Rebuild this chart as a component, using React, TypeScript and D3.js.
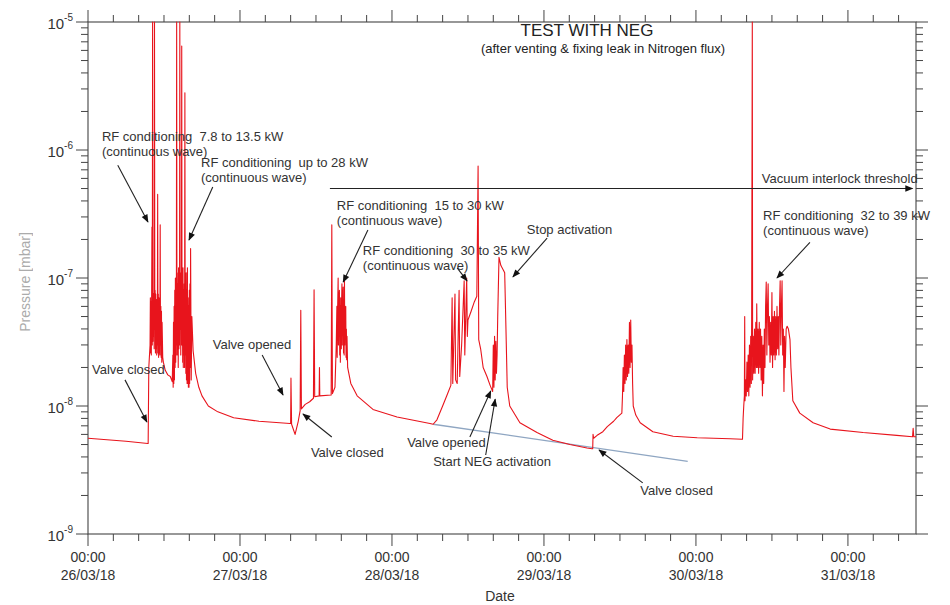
import * as d3 from 'd3';

const WIDTH = 950;
const HEIGHT = 605;
const MARGIN = { top: 22, right: 34, bottom: 71, left: 88 };
const START = Date.UTC(2018, 2, 26); // 26/03/18 00:00
const SPAN_H = 130.75;
const HOUR = 3600 * 1000;
const FONT = '"Liberation Sans", Arial, Helvetica, sans-serif';

type Pt = [number, number]; // [hours since 26/03/18 00:00, pressure in mbar]

// pressure trace, split by event
const beforeRun: Pt[] = [[0, 5.6e-9], [3, 5.45e-9], [6, 5.3e-9], [9.45, 5.1e-9]];

const rfRun1: Pt[] = [
    [9.5, 5.1e-9], [9.6, 2.0e-8], [9.8, 3.0e-8], [9.85, 7.0e-8], [9.9, 2.6e-8], [9.95, 6.5e-8],
    [10.0, 2.5e-8], [10.05, 7.5e-8], [10.1, 2.5e-7], [10.15, 3.0e-8], [10.2, 1e-5], [10.25, 3.2e-8],
    [10.3, 7.6e-8], [10.35, 3.5e-8], [10.4, 7.0e-8], [10.45, 2.8e-8], [10.5, 1e-5], [10.55, 4.0e-8],
    [10.6, 8.0e-8], [10.65, 2.6e-8], [10.7, 7.5e-8], [10.75, 2.8e-8], [10.8, 6.8e-8], [10.85, 2.5e-8],
    [10.9, 6.0e-8], [10.95, 3.0e-8], [11.0, 4.5e-7], [11.05, 2.6e-8], [11.1, 7.5e-8], [11.15, 2.4e-8],
    [11.2, 7.0e-8], [11.25, 2.6e-8], [11.3, 6.5e-8], [11.35, 2.5e-8], [11.4, 2.6e-7], [11.45, 3.0e-8],
    [11.5, 6.0e-8], [11.55, 2.4e-8], [11.6, 5.5e-8], [11.65, 2.2e-8], [11.7, 4.5e-8], [11.8, 2.4e-8],
    [11.9, 2.2e-8], [12.2, 1.9e-8], [12.6, 1.75e-8], [13.0, 1.7e-8], [13.3, 1.55e-8],
];

const rfRun2: Pt[] = [
    [13.4, 2.5e-8], [13.45, 1.4e-8], [13.5, 4.5e-8], [13.55, 1.5e-8], [13.6, 6.0e-8], [13.65, 1.6e-8],
    [13.7, 8.0e-8], [13.75, 2.0e-8], [13.8, 1.0e-7], [13.85, 2.2e-8], [13.9, 9.0e-8], [13.95, 2.5e-8],
    [14.0, 1e-5], [14.05, 3.0e-8], [14.1, 1.1e-7], [14.15, 2.5e-8], [14.2, 9.0e-8], [14.25, 2.0e-8],
    [14.3, 1.2e-7], [14.35, 2.8e-8], [14.4, 1.0e-7], [14.45, 3.0e-8], [14.5, 1e-5], [14.55, 4.0e-8],
    [14.6, 1.1e-7], [14.65, 2.5e-8], [14.7, 1.0e-7], [14.75, 3.0e-8], [14.8, 6.5e-6], [14.85, 3.0e-8],
    [14.9, 1.1e-7], [14.95, 2.2e-8], [15.0, 1.2e-7], [15.05, 2.0e-8], [15.1, 8.0e-8], [15.15, 2.5e-8],
    [15.2, 9.0e-8], [15.25, 2.0e-8], [15.3, 2.8e-6], [15.35, 2.5e-8], [15.4, 9.0e-8], [15.45, 1.8e-8],
    [15.5, 1.1e-7], [15.55, 1.6e-8], [15.6, 8.0e-8], [15.65, 1.5e-8], [15.7, 1.2e-7], [15.75, 1.5e-8],
    [15.8, 7.0e-8], [15.85, 1.4e-8], [15.9, 6.0e-8], [15.95, 1.4e-8], [16.0, 8.0e-8], [16.05, 1.5e-8],
    [16.1, 9.0e-8], [16.15, 2.0e-8], [16.2, 1.7e-7], [16.3, 1.6e-8], [16.4, 5.0e-8], [16.6, 2.7e-8],
];

const decay1: Pt[] = [
    [17.0, 1.8e-8], [17.5, 1.4e-8], [18.0, 1.2e-8], [19.0, 1.0e-8], [20.5, 9.0e-9], [23.0, 8.1e-9],
    [27.0, 7.6e-9], [31.9, 7.3e-9],
];

const valveRun: Pt[] = [
    [32.0, 7.3e-9], [32.05, 1.65e-8], [32.15, 7.2e-9], [32.7, 6.0e-9], [33.2, 7.6e-9], [33.5, 9.2e-9],
    [33.6, 5.6e-8], [33.7, 9.5e-9], [34.3, 1.03e-8], [35.0, 1.08e-8], [35.6, 1.15e-8], [35.7, 8.1e-8],
    [35.8, 1.18e-8], [36.5, 1.2e-8], [36.55, 2.0e-8], [36.6, 1.2e-8], [38.4, 1.22e-8], [38.5, 2.6e-7],
    [38.6, 1.25e-8], [39.0, 1.4e-8],
];

const rfRun3: Pt[] = [
    [39.2, 3.0e-8], [39.3, 6.0e-8], [39.35, 2.4e-8], [39.4, 5.0e-8], [39.5, 1.0e-7], [39.55, 3.0e-8],
    [39.6, 6.0e-8], [39.7, 8.0e-8], [39.75, 2.5e-8], [39.8, 6.0e-8], [39.85, 2.2e-8], [39.9, 7.0e-8],
    [40.0, 2.8e-8], [40.05, 6.5e-8], [40.1, 9.0e-8], [40.15, 3.0e-8], [40.2, 6.0e-8], [40.3, 8.5e-8],
    [40.35, 2.6e-8], [40.4, 6.0e-8], [40.45, 2.5e-8], [40.5, 9.5e-8], [40.55, 3.0e-8], [40.6, 5.5e-8],
    [40.7, 6.0e-8], [40.75, 2.4e-8], [40.8, 4.0e-8], [40.85, 2.3e-8], [40.9, 3.5e-8],
];

const decay2: Pt[] = [
    [41.0, 2.0e-8], [41.5, 1.5e-8], [42.5, 1.2e-8], [45.0, 9.4e-9], [48.8, 8.2e-9], [54.0, 7.3e-9],
    [54.5, 7.2e-9],
];

const negRun: Pt[] = [
    [55.1, 7.8e-9], [56.0, 1.0e-8], [56.7, 1.22e-8], [57.3, 1.45e-8], [57.5, 7.0e-8], [57.6, 1.5e-8],
    [57.95, 7.5e-8], [58.05, 1.6e-8], [58.3, 1.5e-8], [58.6, 8.0e-8], [58.7, 1.7e-8], [59.0, 3.0e-8],
    [59.4, 9.5e-8], [59.5, 2.5e-8], [59.8, 1.0e-7], [59.9, 3.5e-8], [60.0, 4.7e-8], [60.5, 5.5e-8],
    [61.0, 6.5e-8], [61.4, 7.2e-8], [61.6, 7.5e-7], [61.7, 3.3e-8], [62.0, 2.8e-8], [62.4, 2.0e-8],
    [63.0, 1.7e-8], [63.5, 1.45e-8], [63.9, 1.3e-8], [64.0, 3.0e-8], [64.1, 1.4e-8], [64.2, 3.5e-8],
    [64.3, 1.6e-8], [64.4, 3.2e-8], [64.5, 1.8e-8], [64.6, 2.5e-8], [64.7, 5.0e-8], [64.9, 1.45e-7],
    [65.2, 1.25e-7], [65.6, 1.15e-7], [65.8, 1.1e-7], [66.0, 4.0e-8], [66.2, 1.4e-8], [66.6, 1.0e-8],
];

const decay3: Pt[] = [
    [68.2, 7.4e-9], [70.9, 6.2e-9], [73.4, 5.4e-9], [76.1, 5.0e-9], [78.8, 4.7e-9], [79.6, 4.63e-9],
];

const run5: Pt[] = [
    [79.7, 4.63e-9], [79.75, 6.0e-9], [79.85, 5.6e-9], [80.4, 5.9e-9], [81.3, 6.3e-9], [82.0, 6.9e-9],
    [83.0, 7.6e-9], [83.5, 8.1e-9], [84.3, 8.8e-9], [84.4, 1.2e-8], [84.5, 2.0e-8], [84.6, 1.3e-8],
    [84.7, 2.5e-8], [84.8, 1.5e-8], [84.9, 3.0e-8], [85.0, 1.6e-8], [85.1, 3.3e-8], [85.2, 1.7e-8],
    [85.3, 3.0e-8], [85.4, 1.8e-8], [85.5, 4.5e-8], [85.6, 2.0e-8], [85.7, 4.7e-8], [85.8, 2.2e-8],
    [85.9, 3.0e-8], [86.0, 1.5e-8], [86.1, 1.0e-8],
];

const decay4: Pt[] = [
    [86.5, 8.5e-9], [87.2, 7.4e-9], [89.2, 6.3e-9], [92.4, 5.8e-9], [96.2, 5.65e-9], [101.4, 5.55e-9],
    [103.3, 5.5e-9],
];

const rfRun6: Pt[] = [
    [103.35, 5.5e-9], [103.45, 8.0e-9], [103.55, 1.0e-8], [103.65, 1.2e-8], [103.7, 5.0e-8], [103.75, 1.1e-8],
    [103.85, 1.6e-8], [103.95, 1.2e-8], [104.05, 2.2e-8], [104.15, 1.3e-8], [104.25, 2.5e-8], [104.35, 1.2e-8],
    [104.45, 3.0e-8], [104.55, 1.4e-8], [104.65, 3.5e-8], [104.75, 1.5e-8], [104.8, 5.0e-8], [104.9, 1e-5],
    [104.95, 1.6e-8], [105.05, 3.5e-8], [105.15, 1.8e-8], [105.25, 4.0e-8], [105.35, 1.8e-8], [105.45, 4.5e-8],
    [105.55, 2.0e-8], [105.6, 6.3e-8], [105.7, 2.0e-8], [105.8, 4.0e-8], [105.9, 1.8e-8], [106.0, 4.5e-8],
    [106.1, 2.0e-8], [106.2, 4.0e-8], [106.3, 1.6e-8], [106.4, 3.5e-8], [106.5, 1.2e-8], [106.6, 3.0e-8],
    [106.7, 1.5e-8], [106.8, 4.0e-8], [106.9, 2.0e-8], [107.0, 6.0e-8], [107.1, 9.3e-8], [107.2, 2.5e-8],
    [107.3, 6.0e-8], [107.4, 9.0e-8], [107.5, 3.0e-8], [107.6, 5.0e-8], [107.7, 2.2e-8], [107.8, 4.5e-8],
    [107.9, 2.5e-8], [108.0, 7.7e-8], [108.1, 2.0e-8], [108.2, 5.0e-8], [108.3, 2.5e-8], [108.4, 5.5e-8],
    [108.5, 2.3e-8], [108.6, 5.0e-8], [108.7, 2.5e-8], [108.8, 6.0e-8], [108.9, 2.8e-8], [109.0, 5.0e-8],
    [109.1, 2.5e-8], [109.2, 6.0e-8], [109.3, 9.5e-8], [109.4, 3.0e-8], [109.5, 6.0e-8], [109.6, 9.5e-8],
    [109.7, 2.5e-8], [109.8, 4.0e-8], [109.9, 1.3e-8], [110.0, 3.5e-8], [110.1, 2.0e-8], [110.25, 4.0e-8],
    [110.4, 4.2e-8], [110.6, 4.0e-8], [110.85, 3.3e-8],
];

const decay5: Pt[] = [
    [111.0, 2.0e-8], [111.3, 1.1e-8], [112.4, 8.8e-9], [114.5, 7.4e-9], [117.2, 6.6e-9], [122.4, 6.2e-9],
    [127.7, 5.9e-9], [130.2, 5.75e-9], [130.3, 6.7e-9], [130.4, 5.75e-9], [130.75, 5.75e-9],
];

const trace: Pt[] = [
    ...beforeRun, ...rfRun1, ...rfRun2, ...decay1, ...valveRun, ...rfRun3, ...decay2,
    ...negRun, ...decay3, ...run5, ...decay4, ...rfRun6, ...decay5,
];

// blue reference line (extrapolated pump-down)
const pumpDownLine: Pt[] = [[54.5, 7.2e-9], [94.7, 3.7e-9]];

const Y_DOMAIN = [1e-9, 1e-5];
const INTERLOCK = 5e-7;
const INTERLOCK_FROM = 38.2;
const INTERLOCK_TO = 130.2;

type Note = { lines: string[]; at: Pt; from?: Pt; to?: Pt };

const notes: Note[] = [
    { lines: ['RF conditioning  7.8 to 13.5 kW', '(continuous wave)'], at: [2.2, 1.17e-6], from: [4.7, 7.6e-7], to: [9.47, 2.74e-7] },
    { lines: ['RF conditioning  up to 28 kW', '(continuous wave)'], at: [17.85, 7.36e-7], from: [19.7, 5.14e-7], to: [15.95, 1.98e-7] },
    { lines: ['Valve closed'], at: [0.63, 1.78e-8], from: [5.84, 1.6e-8], to: [9.3, 7.5e-9] },
    { lines: ['Valve opened'], at: [19.7, 2.79e-8], from: [27.5, 2.5e-8], to: [30.8, 1.22e-8] },
    { lines: ['Valve closed'], at: [35.2, 4.0e-9], from: [38.5, 5.73e-9], to: [33.95, 8.66e-9] },
    { lines: ['RF conditioning  15 to 30 kW', '(continuous wave)'], at: [39.3, 3.4e-7], from: [44.2, 2.37e-7], to: [40.3, 9.3e-8] },
    { lines: ['RF conditioning  30 to 35 kW', '(continuous wave)'], at: [43.4, 1.51e-7], from: [58.3, 1.2e-7], to: [59.85, 9.5e-8] },
    { lines: ['Stop activation'], at: [69.3, 2.2e-7], from: [72.5, 2.05e-7], to: [67.1, 1.02e-7] },
    { lines: ['Valve opened'], at: [50.4, 4.79e-9], from: [60.3, 5.73e-9], to: [63.6, 1.31e-8] },
    { lines: ['Start NEG activation'], at: [54.5, 3.4e-9], from: [62.8, 4.14e-9], to: [64.3, 1.13e-8] },
    { lines: ['Valve closed'], at: [87.2, 2.0e-9], from: [87.6, 2.51e-9], to: [80.7, 4.53e-9] },
    { lines: ['Vacuum interlock threshold'], at: [106.4, 5.52e-7] },
    { lines: ['RF conditioning  32 to 39 kW', '(continuous wave)'], at: [106.6, 2.84e-7], from: [114.0, 1.9e-7], to: [108.8, 1.0e-7] },
];

export default function App() {
    const boundsWidth = WIDTH - MARGIN.left - MARGIN.right;
    const boundsHeight = HEIGHT - MARGIN.top - MARGIN.bottom;

    const xScale = d3
        .scaleUtc()
        .domain([new Date(START), new Date(START + SPAN_H * HOUR)])
        .range([0, boundsWidth]);
    const xAt = (h: number) => xScale(new Date(START + h * HOUR));

    const yScale = d3.scaleLog().domain(Y_DOMAIN).range([boundsHeight, 0]).clamp(true);

    const line = d3
        .line<Pt>()
        .x((d) => xAt(d[0]))
        .y((d) => yScale(d[1]));

    const [d0, d1] = xScale.domain();
    const minorX = d3.utcHour.every(4)!.range(d0, new Date(+d1 + 1));
    const isDay = (d: Date) => d.getUTCHours() === 0;
    const dayTicks = minorX.filter(isDay);
    const fmtTime = d3.utcFormat('%H:%M');
    const fmtDate = d3.utcFormat('%d/%m/%y');

    const yTicks = yScale.ticks();
    const isDecade = (v: number) => Math.abs(Math.log10(v) - Math.round(Math.log10(v))) < 1e-6;

    const axisColor = '#444';
    const textColor = '#333';

    return (
        <div style={{ position: 'absolute', left: 0, top: 0 }}>
            <svg width={WIDTH} height={HEIGHT} style={{ display: 'block', background: '#fff' }} fontFamily={FONT}>
                <defs>
                    <marker id="arrowHead" viewBox="0 0 10 10" refX={9} refY={5} markerWidth={10} markerHeight={8}
                        markerUnits="userSpaceOnUse" orient="auto">
                        <path d="M0,1 L10,5 L0,9 z" fill="#111" />
                    </marker>
                </defs>

                {/* y axis title, faded */}
                <text transform="translate(30,282) rotate(-90)" textAnchor="middle" fontSize={14} fill="#888" opacity={0.7}>
                    Pressure [mbar]
                </text>

                <g transform={`translate(${MARGIN.left},${MARGIN.top})`}>
                    {/* box */}
                    <rect x={0} y={0} width={boundsWidth} height={boundsHeight} fill="none" stroke={axisColor} strokeWidth={1.1} />

                    {/* x ticks, bottom and top */}
                    {minorX.map((d, i) => {
                        const x = xAt((+d - START) / HOUR);
                        const len = isDay(d) ? 12 : 7;
                        return (
                            <g key={i} stroke={axisColor} strokeWidth={1}>
                                <line x1={x} x2={x} y1={boundsHeight} y2={boundsHeight + len} />
                                <line x1={x} x2={x} y1={0} y2={-len} />
                            </g>
                        );
                    })}
                    {dayTicks.map((d, i) => {
                        const x = xAt((+d - START) / HOUR);
                        return (
                            <g key={i} fill={textColor} fontSize={14} textAnchor="middle">
                                <text x={x} y={boundsHeight + 28}>{fmtTime(d)}</text>
                                <text x={x} y={boundsHeight + 46}>{fmtDate(d)}</text>
                            </g>
                        );
                    })}
                    <text x={boundsWidth / 2 - 2} y={boundsHeight + 67} textAnchor="middle" fontSize={14} fill={textColor}>
                        Date
                    </text>

                    {/* y ticks, left and right */}
                    {yTicks.map((v, i) => {
                        const y = yScale(v);
                        const len = isDecade(v) ? 12 : 7;
                        return (
                            <g key={i} stroke={axisColor} strokeWidth={1}>
                                <line x1={0} x2={-len} y1={y} y2={y} />
                                <line x1={boundsWidth} x2={boundsWidth + len} y1={y} y2={y} />
                            </g>
                        );
                    })}
                    {yTicks.filter(isDecade).map((v, i) => (
                        <text key={i} x={-15} y={yScale(v) + 7} textAnchor="end" fill={textColor} fontSize={15}>
                            10
                            <tspan fontSize={10} dy={-8}>{`-${Math.abs(Math.round(Math.log10(v)))}`}</tspan>
                        </text>
                    ))}

                    {/* title */}
                    <text x={499} y={14} textAnchor="middle" fontSize={17} fill="#222">TEST WITH NEG</text>
                    <text x={515} y={31} textAnchor="middle" fontSize={13} fill="#222">
                        (after venting &amp; fixing leak in Nitrogen flux)
                    </text>

                    {/* data */}
                    <path d={line(pumpDownLine) ?? ''} fill="none" stroke="#8fa6c2" strokeWidth={1.3} />
                    <path d={line(trace) ?? ''} fill="none" stroke="#e8141c" strokeWidth={1.1} strokeLinejoin="round" />

                    {/* interlock threshold */}
                    <line
                        x1={xAt(INTERLOCK_FROM)}
                        x2={xAt(INTERLOCK_TO)}
                        y1={yScale(INTERLOCK)}
                        y2={yScale(INTERLOCK)}
                        stroke="#222"
                        strokeWidth={1.1}
                        markerEnd="url(#arrowHead)"
                    />

                    {/* annotations */}
                    {notes.map((n, i) => (
                        <g key={i}>
                            {n.from && n.to && (
                                <line
                                    x1={xAt(n.from[0])}
                                    y1={yScale(n.from[1])}
                                    x2={xAt(n.to[0])}
                                    y2={yScale(n.to[1])}
                                    stroke="#222"
                                    strokeWidth={1.1}
                                    markerEnd="url(#arrowHead)"
                                />
                            )}
                            <text x={xAt(n.at[0])} y={yScale(n.at[1])} fontSize={13} fill={textColor} style={{ whiteSpace: 'pre' }}>
                                {n.lines.map((l, j) => (
                                    <tspan key={j} x={xAt(n.at[0])} dy={j === 0 ? 0 : 15}>{l}</tspan>
                                ))}
                            </text>
                        </g>
                    ))}
                </g>
            </svg>
        </div>
    );
}
